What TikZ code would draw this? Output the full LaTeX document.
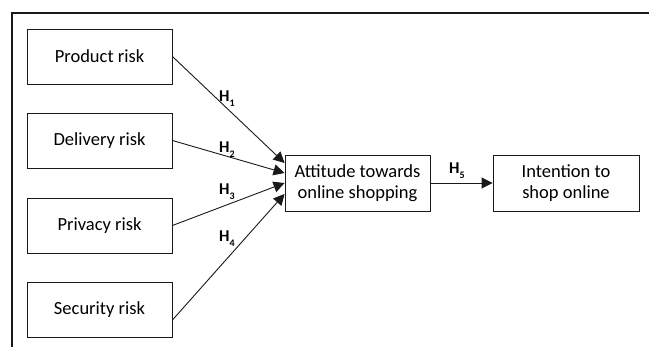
\documentclass[tikz,border=0pt]{standalone}
\usepackage{fontspec}
\setmainfont{Carlito}
\usetikzlibrary{arrows.meta}
\newcommand{\hsub}[1]{\raisebox{-4.5pt}{\fontsize{10}{10}\selectfont #1}}
\begin{document}
\begin{tikzpicture}[x=1pt,y=-1pt,
  box/.style={draw=black!90,line width=0.9pt,rectangle,minimum width=145pt,minimum height=55pt,inner sep=0pt,align=center,font=\fontsize{18.5}{21}\selectfont},
  conn/.style={draw=black!90,line width=0.9pt,-{Triangle[length=11pt,width=11pt]}},
  hl/.style={inner sep=0pt,anchor=base west,font=\bfseries\fontsize{16.5}{18}\selectfont}]
\useasboundingbox (0,0) rectangle (649,347);
\draw[line width=1.1pt,black!90] (12,347) -- (12,13) -- (649,13);
\node[box] (prod) at (99.5,56.5) {Product risk};
\node[box] (deli) at (99.5,140.5) {Delivery risk};
\node[box] (priv) at (99.5,225.5) {Privacy risk};
\node[box] (secu) at (99.5,310) {Security risk};
\node[box,minimum height=56pt] (att) at (357.5,183) {Attitude towards\\online shopping};
\node[box,minimum height=56pt,minimum width=146pt] (int) at (566,183) {Intention to\\shop online};
\draw[conn] (prod.east) -- ([yshift=20pt]att.west);
\draw[conn] (deli.east) -- ([yshift=10pt]att.west);
\draw[conn] (priv.east) -- (att.west);
\draw[conn] ([yshift=-10pt]secu.east) -- ([yshift=-11pt]att.west);
\draw[conn] (att.east) -- (int.west);
\node[hl] (h1) at (219,102) {H\hsub{1}};
\node[hl] (h2) at (219,153) {H\hsub{2}};
\node[hl] (h3) at (219,195) {H\hsub{3}};
\node[hl] (h4) at (219,242) {H\hsub{4}};
\node[hl] (h5) at (449,174) {H\hsub{5}};
\end{tikzpicture}
\end{document}
